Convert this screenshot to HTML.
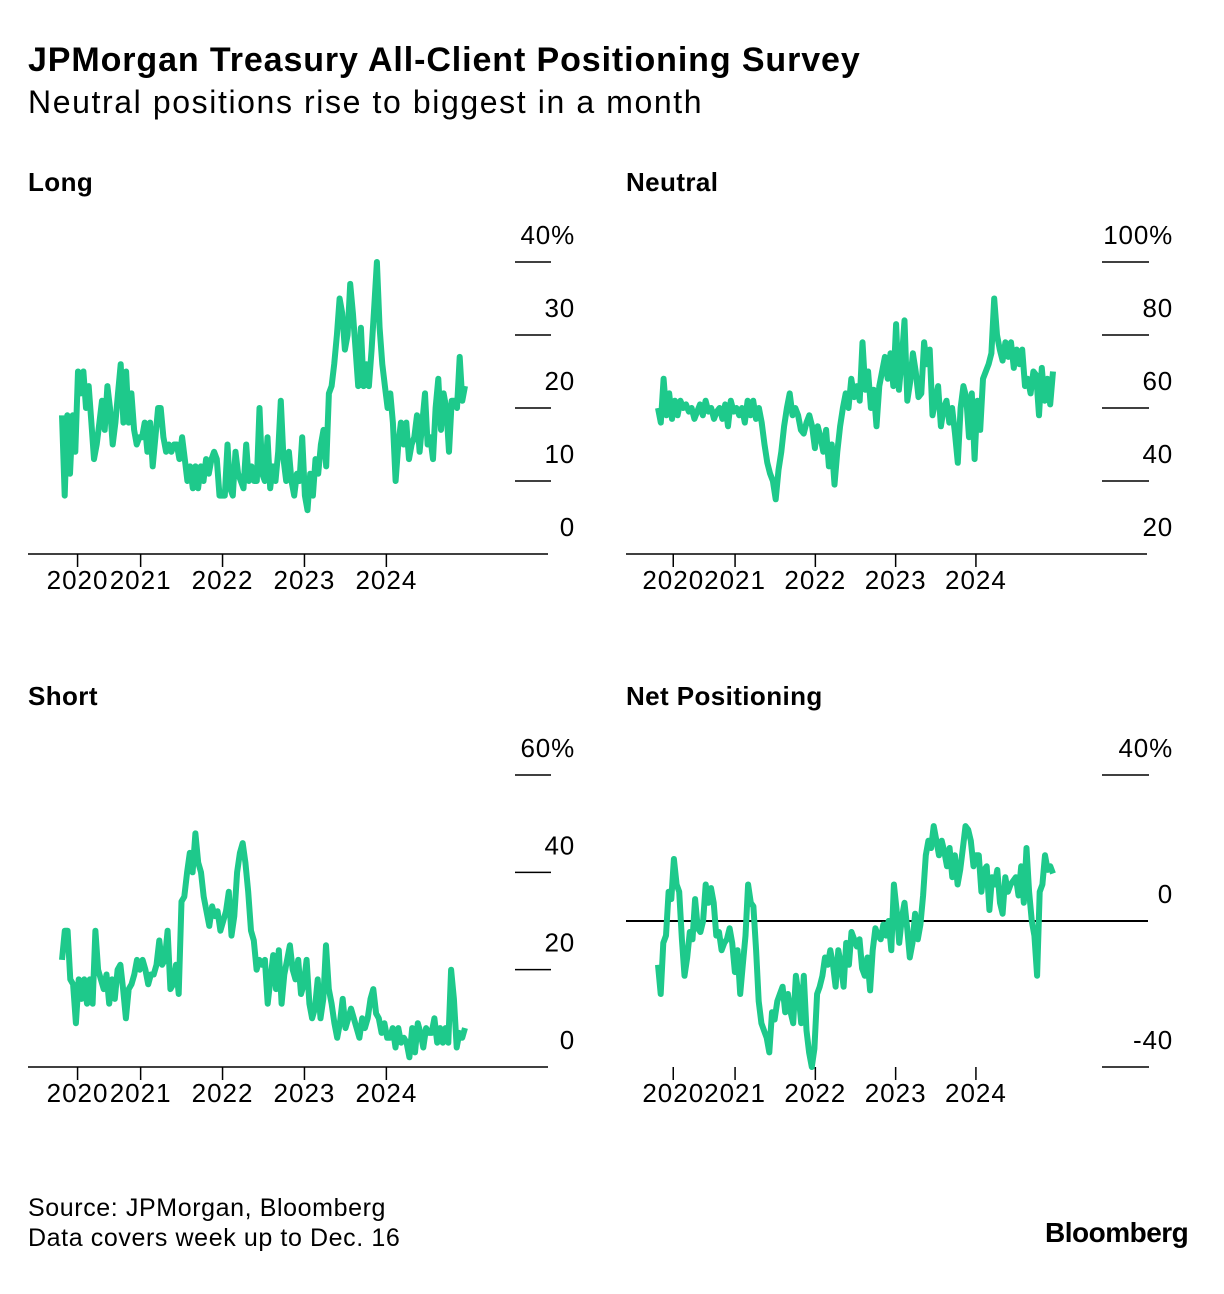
<!DOCTYPE html>
<html><head><meta charset="utf-8"><style>
body{margin:0;background:#fff;font-family:"Liberation Sans",Arial,sans-serif;color:#000}
#wrap{position:relative;width:1224px;height:1294px;overflow:hidden}
.t{position:absolute;white-space:nowrap}
</style></head><body>
<div id="wrap">
<div class="t" style="left:28px;top:41px;font-size:34px;font-weight:bold;letter-spacing:0.9px">JPMorgan Treasury All-Client Positioning Survey</div>
<div class="t" style="left:28px;top:84px;font-size:32px;letter-spacing:1.6px">Neutral positions rise to biggest in a month</div>
<svg id="svg" width="1224" height="1294" style="position:absolute;left:0;top:0"></svg>
<div class="t" style="left:28px;top:1194px;font-size:25px;letter-spacing:0.6px">Source: JPMorgan, Bloomberg</div>
<div class="t" style="left:28px;top:1224px;font-size:25px;letter-spacing:0.6px">Data covers week up to Dec. 16</div>
<div class="t" style="left:1045px;top:1217px;font-size:28px;font-weight:bold;letter-spacing:-0.5px">Bloomberg</div>
</div>
<script>
const longVals=[19,8,19,11,19,14,25,22,25,20,23,18,13,15,18,21,17,23,20,15,18,22,26,18,25,18,22,17,15,16,16,18,14,18,12,16,20,20,16,14,15,14,15,15,13,16,13,10,12,9,12,9,12,10,13,11,13,14,13,8,8,8,15,9,8,14,11,10,9,15,10,12,10,10,20,11,10,16,9,12,10,14,21,13,10,14,10,8,11,10,16,8,6,11,8,13,11,15,17,12,22,23,26,30,35,33,28,30,37,33,28,23,31,23,26,23,28,34,40,31,26,23,20,22,18,10,15,18,15,18,13,15,16,19,14,18,22,15,16,13,20,24,17,22,20,14,21,21,20,27,21,23];
const neutralVals=[60,56,68,58,64,57,62,58,62,60,61,59,60,57,59,61,58,62,59,60,57,59,60,57,61,55,62,59,60,58,60,56,62,58,62,57,60,56,50,45,42,40,35,43,48,55,60,64,58,60,58,54,53,56,58,55,49,55,52,48,54,44,50,39,48,55,60,64,60,68,63,66,62,78,65,70,60,65,55,66,70,74,68,75,66,83,65,73,84,62,67,75,70,63,64,78,72,76,58,62,66,55,60,62,56,60,53,45,60,66,63,52,64,46,62,54,68,70,72,75,90,80,76,73,78,74,78,71,76,72,76,66,68,64,70,69,58,71,62,68,61,70];
const shortVals=[22,28,28,18,17,9,18,14,18,13,18,13,28,20,18,16,19,13,18,14,20,21,16,10,16,17,19,22,20,22,20,17,19,19,21,26,21,22,28,16,17,21,15,34,35,40,44,40,48,42,40,35,32,29,33,31,32,28,30,32,36,27,31,40,44,46,42,36,28,26,20,22,21,22,13,18,23,16,24,13,19,22,25,20,18,22,15,17,22,13,10,12,18,10,14,25,16,13,9,6,9,14,8,10,12,10,8,6,10,8,10,14,16,11,10,7,9,6,6,8,4,8,5,6,5,2,8,3,9,7,4,8,7,7,10,5,8,5,8,5,20,14,4,7,6,8];
const netVals=[-12,-20,-6,-4,8,6,17,10,8,-5,-15,-10,-3,-5,6,-2,-3,0,10,5,9,5,-4,-3,-8,-6,-5,-2,-6,-14,-8,-20,-12,-4,10,5,4,-8,-22,-28,-30,-32,-36,-25,-27,-22,-20,-18,-25,-20,-25,-28,-15,-20,-28,-15,-30,-36,-40,-35,-20,-18,-15,-10,-12,-8,-12,-18,-8,-12,-18,-6,-12,-3,-5,-7,-5,-13,-15,-10,-19,-8,-2,-4,-5,-1,-4,0,-8,10,3,-6,1,5,-2,-10,-6,2,-5,-1,7,18,22,20,26,22,18,22,19,15,20,12,18,10,14,20,26,25,22,15,18,18,8,14,15,3,12,10,14,5,2,12,8,10,11,12,7,15,5,20,8,0,-4,-15,8,10,18,14,15,13];
const yearTicks=[2020.23,2021,2022,2023,2024];
const yearLabels=["2020","2021","2022","2023","2024"];
const longTicks=[0,10,20,30,40],longTickLabels=["0","10","20","30","40%"];
const neutralTicks=[20,40,60,80,100],neutralTickLabels=["20","40","60","80","100%"];
const shortTicks=[0,20,40,60],shortTickLabels=["0","20","40","60%"];
const netTicks=[-40,0,40],netTickLabels=["-40","0","40%"];
const dateStart=2020.04,dateEnd=2024.96;

const svg=document.getElementById('svg');
const NS='http://www.w3.org/2000/svg';
function mk(tag,attrs){const e=document.createElementNS(NS,tag);for(const k in attrs)e.setAttribute(k,attrs[k]);svg.appendChild(e);return e;}

function panel(p){
  const xs=t=>p.x0+(t-dateStart)/(dateEnd-dateStart)*(p.x1-p.x0);
  const ys=v=>p.yb-(v-p.ymin)/(p.ymax-p.ymin)*(p.yb-p.yt);
  const title=mk('text',{x:p.left,y:p.titleY,'font-size':26,'font-weight':'bold','letter-spacing':0.4,'font-family':'Liberation Sans, sans-serif'});
  title.textContent=p.title;
  
  
  p.ticks.forEach((v,i)=>{
    const y=ys(v);
    if((p.key!=='net'&&v!==p.ymin)||(p.key==='net'&&v!==0)){
      const ln=mk('line',{x1:p.tx0,x2:p.tx1,y1:y,y2:y,stroke:'#000','stroke-width':1.5});
      
      
    }
    const tx=mk('text',{x:p.labelX,y:y-18,'text-anchor':'end','font-size':26,'letter-spacing':0.8,'font-family':'Liberation Sans, sans-serif'});
    tx.textContent=p.tickLabels[i];
    
    
  });
  const by=p.yb;
  if(p.key!=='net'){
    const base=mk('line',{x1:p.left,x2:p.right,y1:p.yb,y2:p.yb,stroke:'#000','stroke-width':1.5});
    
    
  } else {
    const z=mk('line',{x1:p.left,x2:p.right,y1:ys(0),y2:ys(0),stroke:'#000','stroke-width':2});
    
    
  }
  yearTicks.forEach((t,i)=>{
    const x=xs(t);
    const tk=mk('line',{x1:x,x2:x,y1:by,y2:by+13,stroke:'#000','stroke-width':1.5});
    
    
    const lb=mk('text',{x:x,y:by+35,'text-anchor':'middle','font-size':26,'letter-spacing':1,'font-family':'Liberation Sans, sans-serif'});
    lb.textContent=yearLabels[i];
    
    
  });
  const n=p.vals.length;
  const d=p.vals.map((v,i)=>(i?'L':'M')+xs(dateStart+i/(n-1)*(dateEnd-dateStart)).toFixed(1)+','+ys(v).toFixed(1)).join('');
  const path=mk('path',{d:d,fill:'none',stroke:'#1ec98b','stroke-width':6,'stroke-linejoin':'round'});
  
  
}
panel({key:'long',title:'Long',vals:longVals,ticks:longTicks,tickLabels:longTickLabels,ymin:0,ymax:40,yb:554,yt:262,x0:62,x1:465,left:28,right:548,titleY:191,tx0:515,tx1:551,labelX:575});
panel({key:'neutral',title:'Neutral',vals:neutralVals,ticks:neutralTicks,tickLabels:neutralTickLabels,ymin:20,ymax:100,yb:554,yt:262,x0:658,x1:1053,left:626,right:1147,titleY:191,tx0:1102,tx1:1149,labelX:1173});
panel({key:'short',title:'Short',vals:shortVals,ticks:shortTicks,tickLabels:shortTickLabels,ymin:0,ymax:60,yb:1067,yt:775,x0:62,x1:465,left:28,right:548,titleY:705,tx0:515,tx1:551,labelX:575});
panel({key:'net',title:'Net Positioning',vals:netVals,ticks:netTicks,tickLabels:netTickLabels,ymin:-40,ymax:40,yb:1067,yt:775,x0:658,x1:1053,left:626,right:1148,titleY:705,tx0:1102,tx1:1149,labelX:1173});
</script>
</body></html>
